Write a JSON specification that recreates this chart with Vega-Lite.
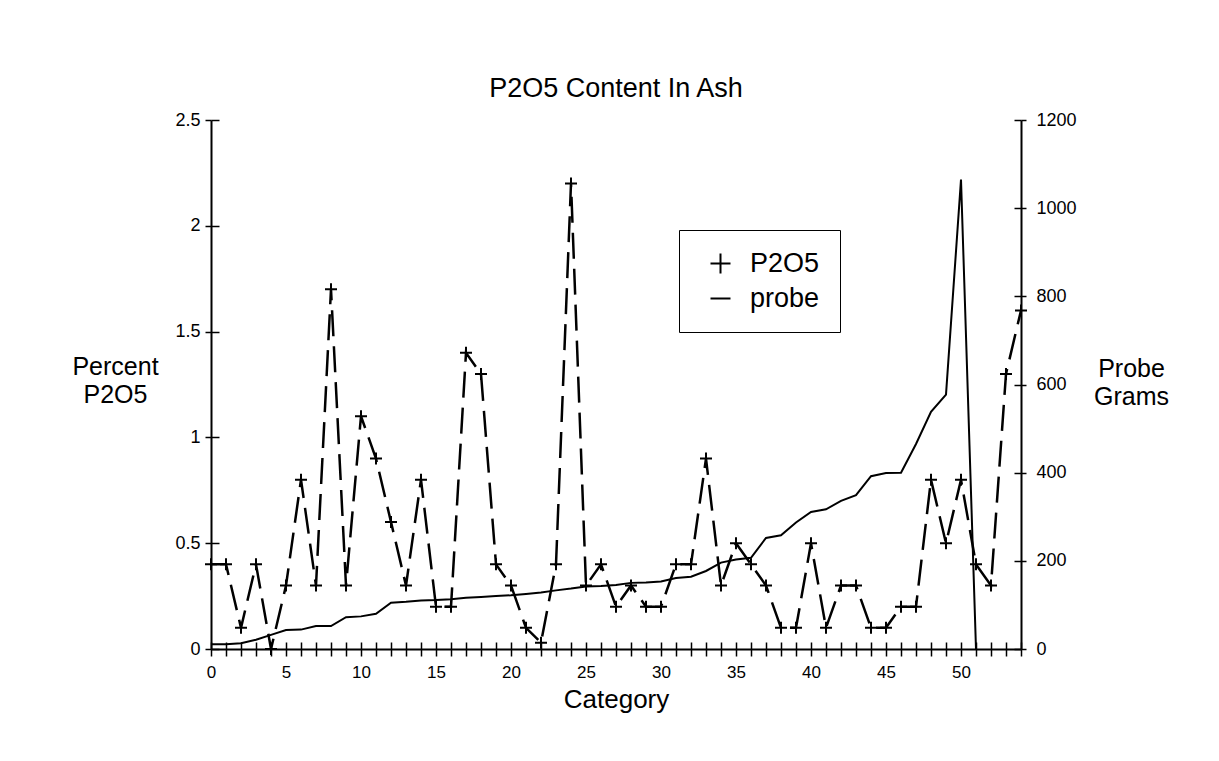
{
  "$schema": "https://vega.github.io/schema/vega-lite/v6.json",
  "width": 810,
  "height": 529,
  "autosize": {"type": "none"},
  "padding": {"left": 211, "top": 120, "right": 198, "bottom": 112},
  "background": "white",
  "title": {"text": "P2O5 Content In Ash", "font": "Liberation Sans", "fontSize": 27, "fontWeight": "normal", "color": "black", "offset": 8},
  "data": {"values": [
    {"cat": 0, "p2o5": 0.4, "probe": 11},
    {"cat": 1, "p2o5": 0.4, "probe": 11},
    {"cat": 2, "p2o5": 0.1, "probe": 13},
    {"cat": 3, "p2o5": 0.4, "probe": 21},
    {"cat": 4, "p2o5": 0.0, "probe": 32},
    {"cat": 5, "p2o5": 0.3, "probe": 43},
    {"cat": 6, "p2o5": 0.8, "probe": 44},
    {"cat": 7, "p2o5": 0.3, "probe": 52},
    {"cat": 8, "p2o5": 1.7, "probe": 52},
    {"cat": 9, "p2o5": 0.3, "probe": 72},
    {"cat": 10, "p2o5": 1.1, "probe": 74},
    {"cat": 11, "p2o5": 0.9, "probe": 80},
    {"cat": 12, "p2o5": 0.6, "probe": 105},
    {"cat": 13, "p2o5": 0.3, "probe": 107},
    {"cat": 14, "p2o5": 0.8, "probe": 110},
    {"cat": 15, "p2o5": 0.2, "probe": 111},
    {"cat": 16, "p2o5": 0.2, "probe": 113},
    {"cat": 17, "p2o5": 1.4, "probe": 116},
    {"cat": 18, "p2o5": 1.3, "probe": 118},
    {"cat": 19, "p2o5": 0.4, "probe": 120},
    {"cat": 20, "p2o5": 0.3, "probe": 122},
    {"cat": 21, "p2o5": 0.1, "probe": 125},
    {"cat": 22, "p2o5": 0.03, "probe": 128},
    {"cat": 23, "p2o5": 0.4, "probe": 133},
    {"cat": 24, "p2o5": 2.2, "probe": 137},
    {"cat": 25, "p2o5": 0.3, "probe": 142},
    {"cat": 26, "p2o5": 0.4, "probe": 143},
    {"cat": 27, "p2o5": 0.2, "probe": 145},
    {"cat": 28, "p2o5": 0.3, "probe": 150},
    {"cat": 29, "p2o5": 0.2, "probe": 151},
    {"cat": 30, "p2o5": 0.2, "probe": 153},
    {"cat": 31, "p2o5": 0.4, "probe": 161},
    {"cat": 32, "p2o5": 0.4, "probe": 164},
    {"cat": 33, "p2o5": 0.9, "probe": 177},
    {"cat": 34, "p2o5": 0.3, "probe": 196},
    {"cat": 35, "p2o5": 0.5, "probe": 203},
    {"cat": 36, "p2o5": 0.4, "probe": 207},
    {"cat": 37, "p2o5": 0.3, "probe": 252},
    {"cat": 38, "p2o5": 0.1, "probe": 258},
    {"cat": 39, "p2o5": 0.1, "probe": 287},
    {"cat": 40, "p2o5": 0.5, "probe": 311},
    {"cat": 41, "p2o5": 0.1, "probe": 317},
    {"cat": 42, "p2o5": 0.3, "probe": 336},
    {"cat": 43, "p2o5": 0.3, "probe": 349},
    {"cat": 44, "p2o5": 0.1, "probe": 392},
    {"cat": 45, "p2o5": 0.1, "probe": 399},
    {"cat": 46, "p2o5": 0.2, "probe": 400},
    {"cat": 47, "p2o5": 0.2, "probe": 465},
    {"cat": 48, "p2o5": 0.8, "probe": 538},
    {"cat": 49, "p2o5": 0.5, "probe": 577},
    {"cat": 50, "p2o5": 0.8, "probe": 1065},
    {"cat": 51, "p2o5": 0.4, "probe": 0},
    {"cat": 52, "p2o5": 0.3, "probe": null},
    {"cat": 53, "p2o5": 1.3, "probe": null},
    {"cat": 54, "p2o5": 1.6, "probe": null}
  ]},
  "encoding": {
    "x": {
      "field": "cat", "type": "quantitative",
      "scale": {"domain": [0, 54], "nice": false, "zero": true},
      "axis": {
        "values": [0,1,2,3,4,5,6,7,8,9,10,11,12,13,14,15,16,17,18,19,20,21,22,23,24,25,26,27,28,29,30,31,32,33,34,35,36,37,38,39,40,41,42,43,44,45,46,47,48,49,50,51,52,53,54],
        "labelExpr": "datum.value % 5 === 0 ? datum.label : ''",
        "title": "Category",
        "titleFontSize": 26,
        "titleFontWeight": "normal",
        "titlePadding": 6,
        "labelFontSize": 17,
        "labelPadding": 8,
        "labelFlush": false,
        "labelOverlap": false,
        "tickSize": 7,
        "grid": true,
        "gridDash": [7, 2000],
        "gridDashOffset": 1485,
        "gridColor": "black",
        "gridWidth": 1.5,
        "gridOpacity": 1
      }
    }
  },
  "layer": [
    {
      "encoding": {
        "y": {
          "field": "p2o5", "type": "quantitative",
          "scale": {"domain": [0, 2.5], "nice": false},
          "axis": {
            "orient": "left",
            "values": [0, 0.5, 1, 1.5, 2, 2.5],
            "format": "~g",
            "title": ["Percent", "P2O5"],
            "titleAngle": 0,
            "titleAlign": "center",
            "titleBaseline": "middle",
            "titleX": -96,
            "titleY": 246,
            "titleFontSize": 25,
            "titleLineHeight": 28,
            "titleFontWeight": "normal",
            "labelFontSize": 18,
            "labelPadding": 5,
            "tickSize": 6,
            "grid": true,
            "gridDash": [8, 2000],
            "gridColor": "black",
            "gridWidth": 1.5,
            "gridOpacity": 1
          }
        }
      },
      "layer": [
        {
          "mark": {"type": "line", "color": "black", "strokeWidth": 2.5, "strokeDash": [26, 10], "strokeCap": "butt"}
        },
        {
          "mark": {"type": "point", "filled": false, "color": "black", "strokeWidth": 2, "size": 144, "opacity": 1},
          "encoding": {
            "shape": {
              "datum": "P2O5",
              "scale": {"domain": ["P2O5", "probe"], "range": ["M-1,0H1M0,-1V1", "stroke"]},
              "legend": {
                "title": null,
                "orient": "none",
                "legendX": 468,
                "legendY": 110,
                "strokeColor": "black",
                "fillColor": "white",
                "padding": 20,
                "labelFontSize": 27,
                "labelFont": "Liberation Sans",
                "labelColor": "black",
                "symbolSize": 400,
                "symbolStrokeWidth": 2,
                "symbolStrokeColor": "black",
                "symbolOffset": 8,
                "labelOffset": 16,
                "rowPadding": 6,
                "encode": {
                  "symbols": {
                    "enter": {
                      "shape": {"signal": "datum.value === 'P2O5' ? 'M-1,0H1M0,-0.4V0.4' : 'stroke'"}
                    },
                    "update": {
                      "shape": {"signal": "datum.value === 'P2O5' ? 'M-1,0H1M0,-0.4V0.4' : 'stroke'"}
                    }
                  }
                }
              }
            }
          }
        }
      ]
    },
    {
      "mark": {"type": "line", "color": "black", "strokeWidth": 2},
      "encoding": {
        "y": {
          "field": "probe", "type": "quantitative",
          "scale": {"domain": [0, 1200], "nice": false},
          "axis": {
            "orient": "right",
            "values": [0, 200, 400, 600, 800, 1000, 1200],
            "format": "d",
            "title": ["Probe", "Grams"],
            "titleAngle": 0,
            "titleAlign": "center",
            "titleBaseline": "middle",
            "titleX": 110,
            "titleY": 248,
            "titleFontSize": 25,
            "titleLineHeight": 28,
            "titleFontWeight": "normal",
            "labelFontSize": 18,
            "labelPadding": 10,
            "tickSize": 5,
            "grid": true,
            "gridDash": [7, 2000],
            "gridColor": "black",
            "gridWidth": 1.5,
            "gridOpacity": 1
          }
        }
      }
    }
  ],
  "resolve": {"scale": {"y": "independent"}},
  "config": {
    "view": {"stroke": null},
    "font": "Liberation Sans",
    "axis": {
      "domainColor": "black",
      "domainWidth": 2,
      "tickColor": "black",
      "tickWidth": 1.5,
      "labelColor": "black",
      "titleColor": "black",
      "labelFont": "Liberation Sans",
      "titleFont": "Liberation Sans"
    }
  }
}
